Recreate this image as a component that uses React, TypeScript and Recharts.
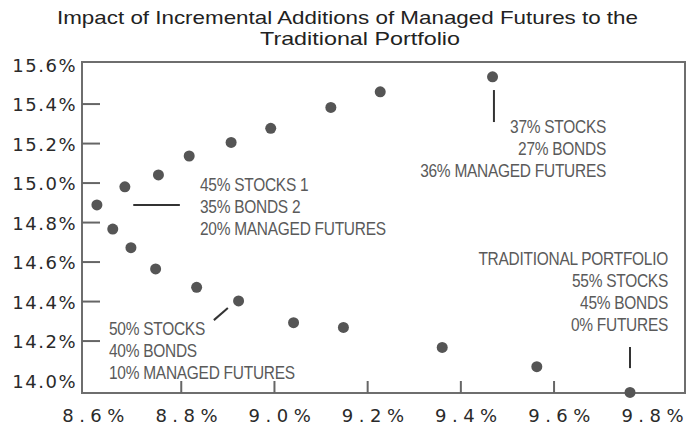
import { ScatterChart, Scatter, XAxis, YAxis, ReferenceArea, ReferenceLine } from "recharts";

// risk (x) vs return (y), 0% -> 36% managed futures in 2% steps
const riskPct = [
  9.763, 9.563, 9.36, 9.148, 9.041, 8.923, 8.833, 8.745, 8.692, 8.653,
  8.619, 8.679, 8.751, 8.817, 8.907, 8.992, 9.121, 9.227, 9.468,
];
const returnPct = [
  13.94, 14.07, 14.168, 14.269, 14.293, 14.403, 14.472, 14.565, 14.673, 14.767,
  14.889, 14.981, 15.041, 15.137, 15.206, 15.277, 15.383, 15.462, 15.538,
];

const xTicks = [8.6, 8.8, 9.0, 9.2, 9.4, 9.6, 9.8];
const yTicks = [14.0, 14.2, 14.4, 14.6, 14.8, 15.0, 15.2, 15.4, 15.6];
const xDomain = [8.587, 9.881];
const yDomain = [13.937, 15.613];

const titleLines = [
  "Impact of Incremental Additions of Managed Futures to the",
  "Traditional Portfolio",
];

const noteA = ["45% STOCKS 1", "35% BONDS 2", "20% MANAGED FUTURES"];
const noteB = ["37% STOCKS", "27% BONDS", "36% MANAGED FUTURES"];
const noteC = ["50% STOCKS", "40% BONDS", "10% MANAGED FUTURES"];
const noteD = ["TRADITIONAL PORTFOLIO", "55% STOCKS", "45% BONDS", "0% FUTURES"];

// leader lines, in data units
const leaders = [
  [{ x: 8.697, y: 14.889 }, { x: 8.797, y: 14.889 }],
  [{ x: 9.471, y: 15.471 }, { x: 9.471, y: 15.309 }],
  [{ x: 8.87, y: 14.306 }, { x: 8.9, y: 14.367 }],
  [{ x: 9.763, y: 14.17 }, { x: 9.763, y: 14.063 }],
];

const data = riskPct.map((x, i) => ({ x, y: returnPct[i] }));

const PLOT_LEFT = 82;
const PLOT_BOTTOM = 393;
const AXIS_FONT = "'DejaVu Sans', sans-serif";
const NOTE_FONT = "'Liberation Sans', Arial, sans-serif";

function YTick({ x, y, payload }: any) {
  const v = payload.value;
  const inner = v > 14.05 && v < 15.55;
  return (
    <g>
      {inner && <line x1={PLOT_LEFT} x2={PLOT_LEFT + 18} y1={y} y2={y} stroke="#666" strokeWidth={2} />}
      <text x={77} y={y + 7} textAnchor="end" fontFamily={AXIS_FONT} fontSize={18} letterSpacing={1.5} fill="#2a2a2a">
        {v.toFixed(1) + "%"}
      </text>
    </g>
  );
}

function XTick({ x, payload }: any) {
  const v = payload.value;
  const inner = v > 8.65 && v < 9.75;
  return (
    <g>
      {inner && <line x1={x} x2={x} y1={PLOT_BOTTOM} y2={PLOT_BOTTOM - 12} stroke="#666" strokeWidth={2} />}
      <text x={x + 8} y={422} textAnchor="middle" fontFamily={AXIS_FONT} fontSize={18} letterSpacing={5.5} fill="#2a2a2a">
        {v.toFixed(1) + "%"}
      </text>
    </g>
  );
}

function Note({ lines, x, y, anchor }: { lines: string[]; x: number; y: number; anchor: "start" | "end" }) {
  return (
    <g transform={`translate(${x} 0) scale(0.86 1) translate(${-x} 0)`}>
      <text x={x} y={y} textAnchor={anchor} fontFamily={NOTE_FONT} fontSize={18} fill="#5a5a5a" letterSpacing={-0.3}>
        {lines.map((l, i) => (
          <tspan key={l} x={x} dy={i === 0 ? 0 : 22}>{l}</tspan>
        ))}
      </text>
    </g>
  );
}

export default function App() {
  return (
    <div style={{ position: "absolute", left: 0, top: 0, width: 690, height: 425, background: "#fff" }}>
      <ScatterChart width={690} height={425} margin={{ top: 62, right: 5, bottom: 0, left: 0 }}>
        <XAxis
          type="number"
          dataKey="x"
          domain={xDomain}
          ticks={xTicks}
          height={32}
          axisLine={false}
          tickLine={false}
          tick={<XTick />}
          interval={0}
        />
        <YAxis
          type="number"
          dataKey="y"
          domain={yDomain}
          ticks={yTicks}
          width={82}
          axisLine={false}
          tickLine={false}
          tick={<YTick />}
          interval={0}
        />
        <ReferenceArea
          x1={xDomain[0]}
          x2={xDomain[1]}
          y1={yDomain[0]}
          y2={yDomain[1]}
          fill="none"
          fillOpacity={0}
          stroke="#6e6e6e"
          strokeWidth={2}
          strokeOpacity={1}
          ifOverflow="visible"
        />
        {leaders.map((seg, i) => (
          <ReferenceLine key={i} segment={seg} stroke="#333" strokeWidth={2} ifOverflow="visible" />
        ))}
        <Scatter
          data={data}
          isAnimationActive={false}
          shape={(p: any) => <circle cx={p.cx} cy={p.cy} r={5.5} fill="#555" />}
        />
      </ScatterChart>
      <svg width={690} height={425} style={{ position: "absolute", left: 0, top: 0, pointerEvents: "none" }}>
        <text x={57} y={24} fontFamily="'Liberation Sans', Arial, sans-serif" fontSize={19} fill="#222"
          textLength={581} lengthAdjust="spacingAndGlyphs">
          {titleLines[0]}
        </text>
        <text x={260} y={45} fontFamily="'Liberation Sans', Arial, sans-serif" fontSize={19} fill="#222"
          textLength={200} lengthAdjust="spacingAndGlyphs">
          {titleLines[1]}
        </text>
        <Note lines={noteA} x={200} y={191} anchor="start" />
        <Note lines={noteB} x={606} y={133} anchor="end" />
        <Note lines={noteC} x={109} y={335} anchor="start" />
        <Note lines={noteD} x={668} y={265} anchor="end" />
      </svg>
    </div>
  );
}
